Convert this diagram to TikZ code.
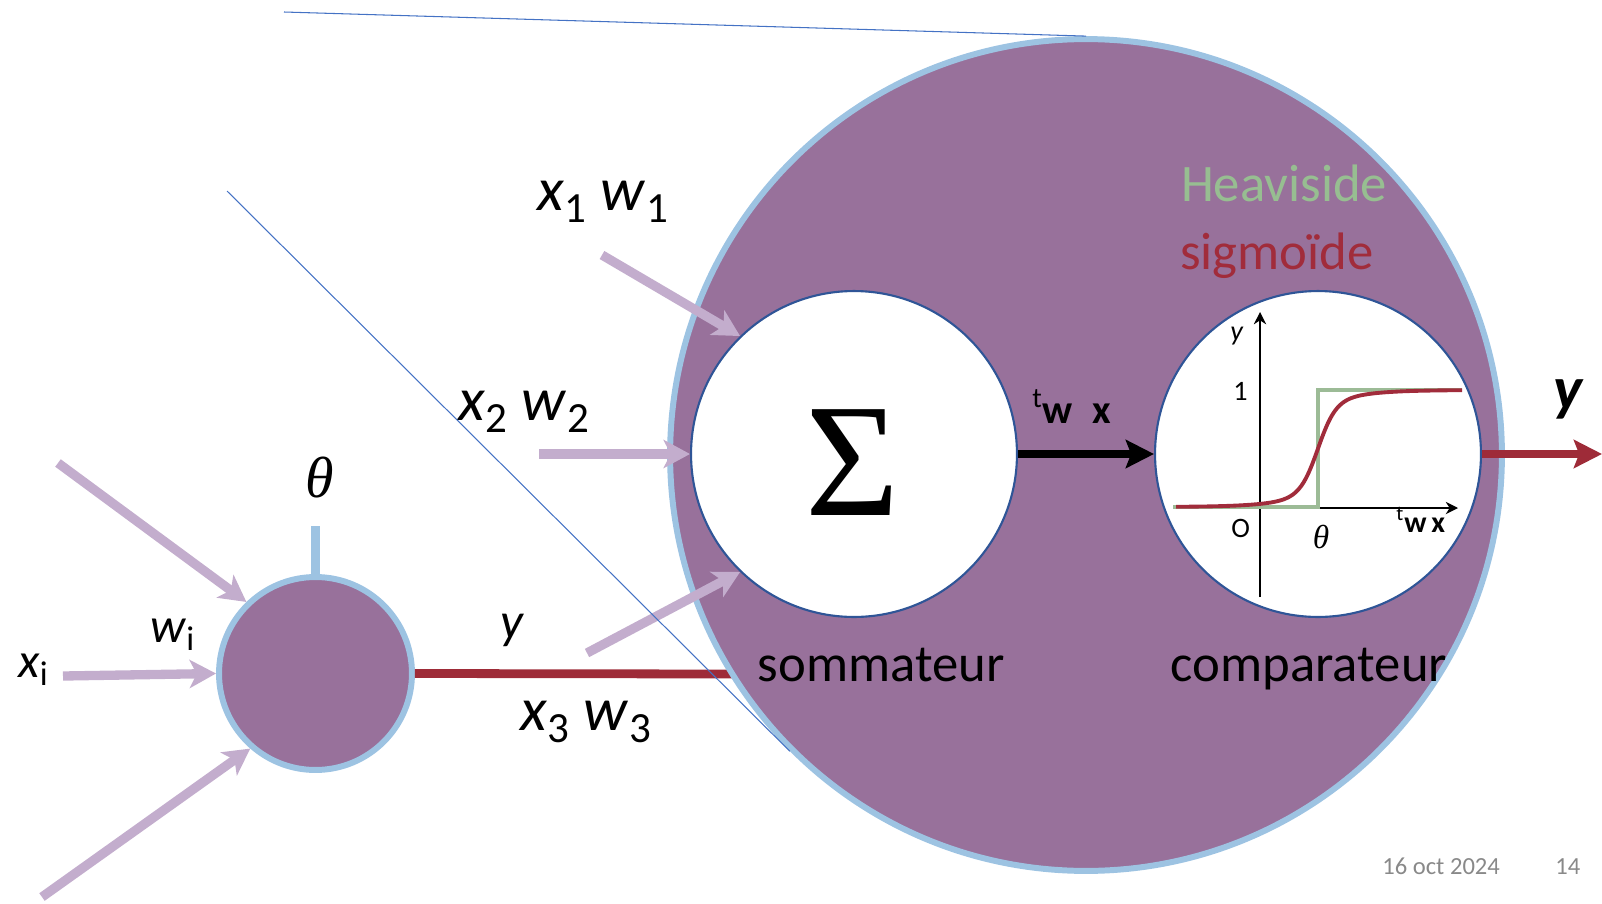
\documentclass[tikz,border=0pt]{standalone}
\usepackage{fontspec}
\setmainfont{Carlito}
\newfontfamily\sigmafont{Liberation Serif}
\usetikzlibrary{arrows.meta,positioning}

\definecolor{purp}{HTML}{98719B}
\definecolor{lblue}{HTML}{9DC3E2}
\definecolor{inpurp}{HTML}{C3ADCD}
\definecolor{dred}{HTML}{9E2B38}
\definecolor{dblue}{HTML}{2F5597}
\definecolor{thinblue}{HTML}{4472C4}
\definecolor{hgreen}{HTML}{97BE91}
\definecolor{stepgreen}{HTML}{9CBB96}
\definecolor{sigred}{HTML}{A12C3B}
\definecolor{dategray}{HTML}{898989}

\newcommand\fsize[1]{\fontsize{#1}{#1}\selectfont}

\begin{document}
\begin{tikzpicture}[x=0.02cm, y=-0.02cm,
    neuron/.style={circle, draw=lblue, line width=3.4pt, fill=purp, inner sep=0},
    unit/.style={circle, draw=dblue, line width=1.2pt, fill=white, inner sep=0, minimum size=6.52cm},
    inwire/.style={line width=5.3pt, inpurp, -{Stealth[length=15pt, width=16pt, inset=4pt]}},
    redwire/.style={line width=5pt, dred},
    zoomline/.style={line width=0.6pt, thinblue},
    axis/.style={line width=0.9pt, -{Stealth[length=7pt, width=7pt]}},
    lab/.style={inner sep=0, anchor=base west},
    word/.style={inner sep=0, anchor=base, font=\fsize{30pt}}
  ]
  \useasboundingbox (0,0) rectangle (1602,903);

  % small neuron
  \node[neuron, minimum size=3.86cm] (cell) at (315.5,673.5) {};
  \coordinate (thetatop) at (315.5,526);
  \draw[line width=5pt, lblue] (cell.north) -- (thetatop);
  \coordinate (yend) at (735,674);
  \draw[redwire] (cell.east) -- (yend);

  % enlarged neuron
  \node[neuron, minimum size=16.64cm] (zoom) at (1086,455) {};
  \node[unit] (sum) at (854,454) {};
  \node[inner sep=0, font=\sigmafont\fsize{92pt}] (sigma) at (853,463) {Σ};
  \node[unit] (comp) at (1318,454) {};

  \draw[line width=5pt, -{Stealth[length=16pt, width=16pt, inset=3pt]}] (sum.east) -- (comp.west);
  \coordinate (yout) at (1602,454);
  \draw[redwire, -{Stealth[length=16pt, width=16pt, inset=3pt]}] (comp.east) -- (yout);

  % inputs
  \coordinate (in1) at (58,463);
  \coordinate (in2) at (63,676);
  \coordinate (in3) at (42,897);
  \draw[inwire] (in1) -- (cell.134);
  \draw[inwire] (in2) -- (cell.west);
  \draw[inwire] (in3) -- (cell.229);

  \coordinate (s1) at (602,255);
  \coordinate (s2) at (539,454);
  \coordinate (s3) at (587,653);
  \draw[inwire] (s1) -- (sum.134);
  \draw[inwire] (s2) -- (sum.west);
  \draw[inwire] (s3) -- (sum.226);

  % transfer function
  \draw[axis] (1260,597) -- (1260,312);
  \draw[axis] (1177,508) -- (1458,508);
  \draw[line width=2.3pt, stepgreen] (1173,507) -| (1318,390) -- (1462,390);
  \draw[line width=2.2pt, sigred] plot[domain=-142:144, samples=120, smooth]
    ({1318+\x}, {507-117*(0.8/(1+exp(-max(-9,min(9,\x/9)))) + 0.2/(1+exp(-\x/30)))});

  \node[lab, font=\fsize{16pt}\itshape] (gy) at (1230,340) {y};
  \node[lab, font=\fsize{16pt}] (gone) at (1233,400) {1};
  \node[lab, font=\fsize{16pt}] (gzero) at (1231,537) {O};
  \node[inner sep=0, font=\sigmafont\itshape\fsize{19pt}] (gtheta) at (1321,537) {θ};
  \node[lab, font=\fsize{17pt}] (gwx) at (1396,532) {\textsuperscript{t}\textbf{w}\,\textbf{x}};

  % labels
  \node[lab, font=\fsize{35pt}] (x1w1) at (537,210) {\textit{x}\textsubscript{1} \textit{w}\textsubscript{1}};
  \node[lab, font=\fsize{35pt}] (x2w2) at (458,420) {\textit{x}\textsubscript{2} \textit{w}\textsubscript{2}};
  \node[lab, font=\fsize{35pt}] (x3w3) at (520,730) {\textit{x}\textsubscript{3} \textit{w}\textsubscript{3}};
  \node[lab, font=\fsize{28pt}] (xi) at (18,677) {\textit{x}\textsubscript{i}};
  \node[lab, font=\fsize{28pt}] (wi) at (150,642) {\textit{w}\textsubscript{i}};
  \node[lab, font=\fsize{29pt}\itshape] (ysmall) at (500,638) {y};
  \node[inner sep=0, font=\sigmafont\itshape\fsize{33pt}] (theta) at (320,478) {θ};
  \node[lab, font=\fsize{23pt}] (wx) at (1032,423) {\textsuperscript{t}\textbf{w}\enspace\textbf{x}};
  \node[lab, font=\fsize{35pt}\bfseries\itshape] (ybig) at (1553,409) {y};

  \node[word] (sumlab) at (881,681) {sommateur};
  \node[word] (complab) at (1309,681) {comparateur};
  \node[word, text=hgreen] (heavi) at (1284,201) {Heaviside};
  \node[word, text=sigred] (sigmo) at (1277,269) {sigmoïde};

  \node[lab, font=\fsize{14pt}, text=dategray] (date) at (1382,874) {16 oct 2024};
  \node[lab, font=\fsize{14pt}, text=dategray] (page) at (1555,874) {14};

  % zoom lines
  \coordinate (za) at (284,12);
  \coordinate (zb) at (227,191);
  \draw[zoomline] (za) -- (zoom.north);
  \draw[zoomline] (zb) -- (zoom.225);
\end{tikzpicture}
\end{document}
